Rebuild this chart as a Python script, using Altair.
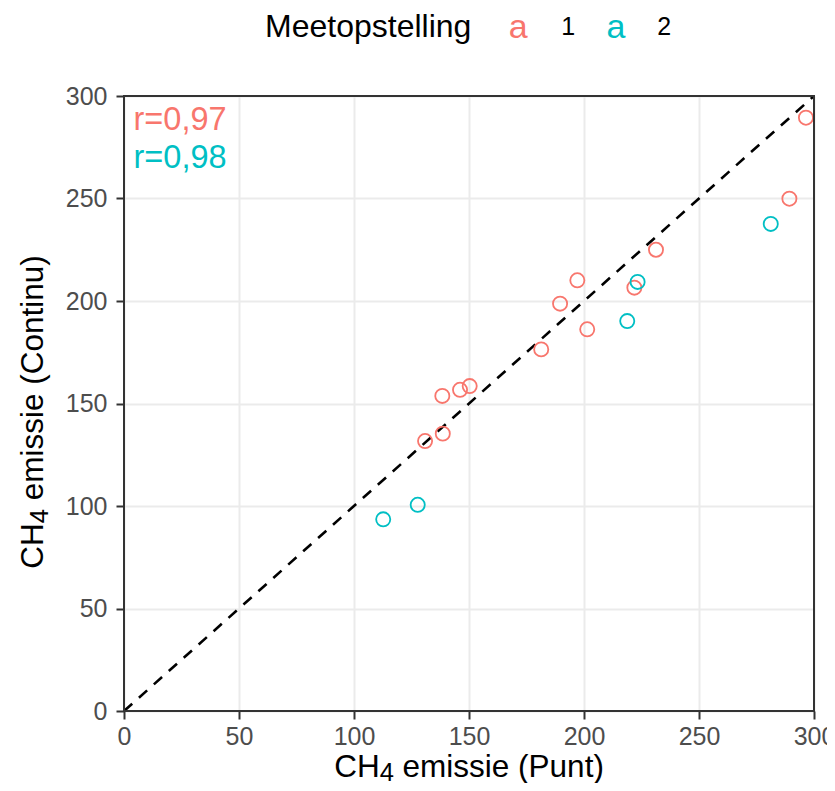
import altair as alt
import pandas as pd

# ---- data ----
groups = ["1"] * 13 + ["2"] * 5
punt = [296.5, 289.3, 231.3, 197.1, 189.6, 221.9, 201.4, 181.4, 138.4, 146.1, 150.3, 138.6, 130.9,
        223.3, 218.8, 281.2, 127.7, 112.7]
continu = [289.4, 249.9, 225.0, 210.1, 198.7, 206.5, 186.2, 176.4, 153.7, 156.7, 158.5, 135.3, 131.7,
           209.3, 190.2, 237.6, 100.6, 93.5]
categories = ["1", "2"]
colors = ["#F8766D", "#00BFC4"]
r_labels = ["r=0,97", "r=0,98"]
identity = [0, 300]
ticks = [0, 50, 100, 150, 200, 250, 300]
x_title = ["CH", "4", "emissie (Punt)"]
y_title = ["CH", "4", "emissie (Continu)"]
legend_title = "Meetopstelling"

W, H = 690, 615
FONT = "Liberation Sans"
TF = 31.5    # axis title font size
SF = 25.5    # subscript font size

df = pd.DataFrame({"punt": punt, "continu": continu, "grp": groups})
line_df = pd.DataFrame({"a": identity, "b": identity})
one = pd.DataFrame({"k": [0]})

axis_common = dict(
    values=ticks, labelFontSize=25, labelColor="#4D4D4D", labelFont=FONT,
    tickColor="#333333", tickSize=8, tickWidth=2, domain=False,
    gridColor="#EBEBEB", gridWidth=2, labelOverlap=False, title="",
)

xs = alt.Scale(domain=[0, 300], nice=False, zero=False)
ys = alt.Scale(domain=[0, 300], nice=False, zero=False)

line = alt.Chart(line_df).mark_line(color="black", strokeWidth=2.6, strokeDash=[11, 9]).encode(
    x=alt.X("a:Q", scale=xs, axis=alt.Axis(labelPadding=5, labelFlush=False, **axis_common)),
    y=alt.Y("b:Q", scale=ys, axis=alt.Axis(labelPadding=9, **axis_common)),
)

points = alt.Chart(df).mark_point(shape="circle", filled=False, size=200, strokeWidth=1.8, opacity=1).encode(
    x=alt.X("punt:Q", scale=xs),
    y=alt.Y("continu:Q", scale=ys),
    color=alt.Color("grp:N", scale=alt.Scale(domain=categories, range=colors), legend=None),
)


def txt(text, x, y, size, color="black", align="left", angle=0):
    return alt.Chart(one).mark_text(text=text, font=FONT, fontSize=size, color=color,
                                    align=align, baseline="alphabetic", angle=angle).encode(
        x=alt.value(x), y=alt.value(y))


layers = [line, points]
# correlation labels
layers.append(txt(r_labels[0], 9.5, 33.7, 32.5, colors[0]))
layers.append(txt(r_labels[1], 9.5, 71.7, 32.5, colors[1]))

# x axis title (with subscript)
w_ch = (0.722 + 0.722) * TF
w_4 = 0.556 * SF
w_sp = 0.278 * TF
xt0 = 345 - (w_ch + w_4 + 6.668 * TF) / 2
layers.append(txt(x_title[0], xt0, 680.5, TF))
layers.append(txt(x_title[1], xt0 + w_ch, 685, SF))
layers.append(txt(x_title[2], xt0 + w_ch + w_4 + w_sp, 680.5, TF))

# y axis title (rotated, with subscript)
yt_len = w_ch + w_4 + 8.057 * TF
yt0 = 316 + yt_len / 2
layers.append(txt(y_title[0], -81, yt0, TF, angle=270))
layers.append(txt(y_title[1], -76, yt0 - w_ch, SF, angle=270))
layers.append(txt(y_title[2], -81, yt0 - w_ch - w_4 - w_sp, TF, angle=270))

# manual legend (keys drawn as the letter "a", as in the original)
layers.append(txt(legend_title, 141, -59, 32))
key_x = [394.3, 492.0]
lab_x = [444.3, 540.3]
for i, c in enumerate(categories):
    layers.append(txt("a", key_x[i], -58.5, 34, colors[i], align="center"))
    layers.append(txt(c, lab_x[i], -61, 25, align="center"))

border = alt.Chart(one).mark_rect(fillOpacity=0, stroke="#333333", strokeWidth=2).encode(
    x=alt.value(0), x2=alt.value(W), y=alt.value(0), y2=alt.value(H))
layers.append(border)

chart = alt.layer(*layers).properties(
    width=W, height=H,
    autosize=alt.AutoSizeParams(type="none"),
    padding={"left": 116, "top": 88, "right": 13, "bottom": 72},
).configure_view(stroke=None).configure(font=FONT)

chart.save("out.html", embed_options={"renderer": "svg", "actions": False})
